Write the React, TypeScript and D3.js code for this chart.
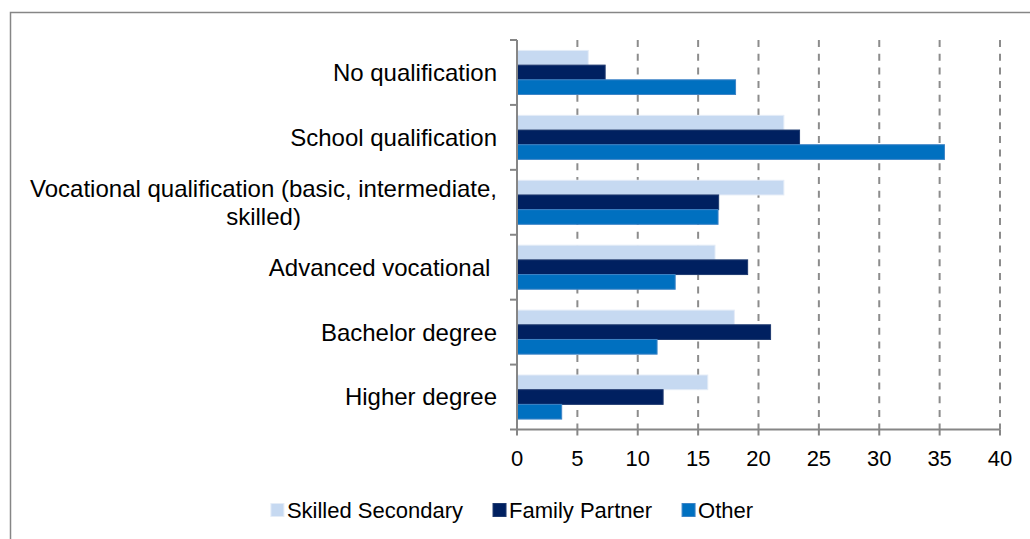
import React, { useEffect, useRef } from "react";
import * as d3 from "d3";

const categories = [
  "No qualification",
  "School qualification",
  "Vocational qualification (basic, intermediate,\nskilled)",
  "Advanced vocational ",
  "Bachelor degree",
  "Higher degree",
];
const seriesNames = ["Skilled Secondary", "Family Partner", "Other"];
const skilledSecondary = [5.9, 22.1, 22.1, 16.4, 18.0, 15.8];
const familyPartner = [7.3, 23.4, 16.7, 19.1, 21.0, 12.1];
const other = [18.1, 35.4, 16.65, 13.1, 11.6, 3.7];
const xTicks = [0, 5, 10, 15, 20, 25, 30, 35, 40];

const fills = ["#C6D9F1", "#002060", "#0070C0"];
const strokes = ["#E4ECF7", "#1F3A70", "#3D84C6"];

const W = 1030;
const H = 539;
const FONT = "'Liberation Sans', Arial, sans-serif";

const App = () => {
  const svgRef = useRef<SVGSVGElement>(null);

  useEffect(() => {
    const svg = d3.select(svgRef.current);
    svg.selectAll("*").remove();

    const plot = { left: 517, right: 1000, top: 40, bottom: 429.5 };
    const values = [skilledSecondary, familyPartner, other];

    // outer frame (runs off the right / bottom edge)
    svg
      .append("rect")
      .attr("x", 10.5)
      .attr("y", 12.5)
      .attr("width", W + 20)
      .attr("height", H + 20)
      .attr("fill", "white")
      .attr("stroke", "#868686")
      .attr("stroke-width", 1.5);

    const x = d3.scaleLinear().domain([0, 40]).range([plot.left, plot.right]);
    const y = d3
      .scaleBand<string>()
      .domain(categories)
      .range([plot.top, plot.bottom])
      .padding(0);
    const y1 = d3
      .scaleBand<string>()
      .domain(seriesNames)
      .range([0, y.bandwidth()])
      .paddingInner(0)
      .paddingOuter(0.71);

    // dashed gridlines
    svg
      .append("g")
      .selectAll("line")
      .data(xTicks.slice(1))
      .enter()
      .append("line")
      .attr("x1", (d) => x(d))
      .attr("x2", (d) => x(d))
      .attr("y1", plot.top)
      .attr("y2", plot.bottom)
      .attr("stroke", "#8C8C8C")
      .attr("stroke-width", 2)
      .attr("stroke-dasharray", "7,6.7");

    // bars
    const g = svg.append("g");
    categories.forEach((c, ci) => {
      seriesNames.forEach((s, si) => {
        const v = values[si][ci];
        g.append("rect")
          .attr("x", x(0))
          .attr("y", (y(c) as number) + (y1(s) as number))
          .attr("width", x(v) - x(0))
          .attr("height", y1.bandwidth())
          .attr("fill", fills[si])
          .attr("stroke", strokes[si])
          .attr("stroke-width", 1);
      });
    });

    // x axis
    const xAxis = svg.append("g");
    xAxis
      .append("line")
      .attr("x1", plot.left)
      .attr("x2", plot.right)
      .attr("y1", plot.bottom)
      .attr("y2", plot.bottom)
      .attr("stroke", "#868686")
      .attr("stroke-width", 2);
    xAxis
      .selectAll("line.tick")
      .data(xTicks)
      .enter()
      .append("line")
      .attr("class", "tick")
      .attr("x1", (d) => x(d))
      .attr("x2", (d) => x(d))
      .attr("y1", plot.bottom)
      .attr("y2", plot.bottom + 6)
      .attr("stroke", "#868686")
      .attr("stroke-width", 2);
    xAxis
      .selectAll("text")
      .data(xTicks)
      .enter()
      .append("text")
      .attr("x", (d) => x(d))
      .attr("y", plot.bottom + 29)
      .attr("dy", "0.35em")
      .attr("text-anchor", "middle")
      .attr("font-family", FONT)
      .attr("font-size", 22)
      .attr("fill", "#000")
      .text((d) => d);

    // y axis
    const yAxis = svg.append("g");
    yAxis
      .append("line")
      .attr("x1", plot.left)
      .attr("x2", plot.left)
      .attr("y1", plot.top)
      .attr("y2", plot.bottom)
      .attr("stroke", "#868686")
      .attr("stroke-width", 2);
    const yTicks = categories.map((c) => y(c) as number).concat([plot.bottom]);
    yAxis
      .selectAll("line.tick")
      .data(yTicks)
      .enter()
      .append("line")
      .attr("class", "tick")
      .attr("x1", plot.left - 7)
      .attr("x2", plot.left)
      .attr("y1", (d) => d)
      .attr("y2", (d) => d)
      .attr("stroke", "#868686")
      .attr("stroke-width", 2);

    // category labels (multi-line labels are centred on each other, block right aligned)
    const labelRight = plot.left - 20;
    categories.forEach((c) => {
      const lines = c.split("\n");
      const cy = (y(c) as number) + y.bandwidth() / 2;
      const lh = 28;
      const t = yAxis
        .append("text")
        .attr("font-family", FONT)
        .attr("font-size", 24)
        .attr("fill", "#000")
        .style("white-space", "pre");
      const tspans = lines.map((ln, i) =>
        t
          .append("tspan")
          .attr("y", cy + (i - (lines.length - 1) / 2) * lh)
          .attr("dy", "0.35em")
          .text(ln)
      );
      const widths = tspans.map((ts) => (ts.node() as SVGTextContentElement).getComputedTextLength());
      const maxW = d3.max(widths) as number;
      const center = labelRight - maxW / 2;
      tspans.forEach((ts) => {
        if (lines.length === 1) ts.attr("x", labelRight).attr("text-anchor", "end");
        else ts.attr("x", center).attr("text-anchor", "middle");
      });
    });

    // legend
    const legend = svg.append("g");
    const items = seriesNames.map((s, i) => {
      const it = legend.append("g");
      it.append("rect")
        .attr("x", 0)
        .attr("y", -6.5)
        .attr("width", 13)
        .attr("height", 13)
        .attr("fill", fills[i])
        .attr("stroke", strokes[i])
        .attr("stroke-width", 1);
      const tx = it
        .append("text")
        .attr("x", 16)
        .attr("y", 0)
        .attr("dy", "0.35em")
        .attr("font-family", FONT)
        .attr("font-size", 22)
        .attr("fill", "#000")
        .text(s);
      return { it, w: 16 + (tx.node() as SVGTextContentElement).getComputedTextLength() };
    });
    const gap = 30;
    const total = d3.sum(items, (d) => d.w) + gap * (items.length - 1);
    let cx = 512 - total / 2;
    items.forEach((d) => {
      d.it.attr("transform", `translate(${cx}, 510)`);
      cx += d.w + gap;
    });
  }, []);

  return (
    <div style={{ position: "absolute", left: 0, top: 0 }}>
      <svg ref={svgRef} width={W} height={H} style={{ display: "block", background: "white" }}></svg>
    </div>
  );
};

export default App;
